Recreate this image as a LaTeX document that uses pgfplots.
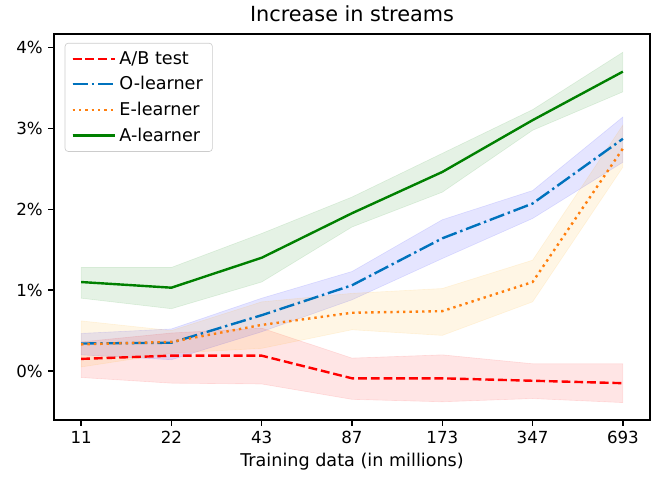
\documentclass[border=0pt]{standalone}
\usepackage{fontspec}
\setmainfont{DejaVu Sans}
\usepackage{pgfplots}
\pgfplotsset{compat=1.18}
\usepackage{pgfplotstable}
\usepgfplotslibrary{fillbetween}

\definecolor{abred}{RGB}{255,0,0}
\definecolor{oblue}{RGB}{0,114,189}
\definecolor{eorange}{RGB}{255,127,14}
\definecolor{agreen}{RGB}{0,128,0}
\definecolor{bandblue}{RGB}{0,0,255}
\definecolor{bandorange}{RGB}{255,165,0}

% columns: category index, mean, lower and upper edge of the band (in %)
\pgfplotstableread{
x  m      lo     hi
0  0.15  -0.08   0.36
1  0.19  -0.15   0.47
2  0.19  -0.16   0.53
3 -0.09  -0.35   0.16
4 -0.09  -0.38   0.20
5 -0.12  -0.34   0.09
6 -0.15  -0.39   0.09
}\abtest
\pgfplotstableread{
x  m     lo     hi
0  0.34  0.20   0.465
1  0.35  0.14   0.52
2  0.69  0.485  0.90
3  1.06  0.88   1.23
4  1.64  1.39   1.87
5  2.07  1.885  2.23
6  2.87  2.58   3.14
}\olearner
\pgfplotstableread{
x  m     lo     hi
0  0.33  0.05   0.62
1  0.36  0.22   0.50
2  0.57  0.28   0.855
3  0.72  0.51   0.96
4  0.74  0.44   1.02
5  1.10  0.855  1.37
6  2.75  2.52   3.04
}\elearner
\pgfplotstableread{
x  m     lo     hi
0  1.10  0.90   1.28
1  1.03  0.77   1.28
2  1.40  1.10   1.70
3  1.95  1.78   2.15
4  2.46  2.21   2.69
5  3.10  2.975  3.23
6  3.70  3.45   3.94
}\alearner

\newcommand{\band}[2]{%
  \addplot[draw=none, forget plot, name path=#1up] table[x=x, y=hi] {#2};
  \addplot[draw=none, forget plot, name path=#1lo] table[x=x, y=lo] {#2};
}

\begin{document}
\begin{tikzpicture}
\begin{axis}[
  scale only axis,
  width=372.5pt, height=241.25pt,
  xmin=-0.3, xmax=6.3, ymin=-0.605, ymax=4.165,
  xtick={0,1,2,3,4,5,6},
  xticklabels={11,22,43,87,173,347,693},
  ytick={0,1,2,3,4},
  yticklabels={0\%,1\%,2\%,3\%,4\%},
  tick align=outside, tick pos=left,
  major tick length=3.5pt,
  every tick/.style={black, line width=0.8pt},
  axis line style={line width=0.8pt, black},
  ticklabel style={font=\fontsize{10.4}{12}\selectfont},
  xlabel={Training data (in millions)},
  xlabel style={font=\fontsize{11}{13}\selectfont, yshift=1pt},
  title={Increase in streams},
  title style={font=\fontsize{13}{15}\selectfont, yshift=-2pt},
  legend cell align=left,
  legend style={at={(0.018,0.977)}, anchor=north west,
    font=\fontsize{11}{13}\selectfont,
    draw=black!20, rounded corners=2pt, fill=white, fill opacity=0.8,
    text opacity=1, row sep=2.2pt, inner xsep=4pt, inner ysep=3pt},
  legend image code/.code={%
    \path (0pt,0pt) -- (26.5pt,0pt);
    \draw[#1] (0pt,0pt) -- (23.5pt,0pt);},
]
  \band{ab}{\abtest}
  \band{o}{\olearner}
  \band{e}{\elearner}
  \band{a}{\alearner}
  \addplot[fill=abred, fill opacity=0.1, draw=abred, draw opacity=0.1, forget plot] fill between[of=abup and ablo];
  \addplot[fill=bandblue, fill opacity=0.1, draw=bandblue, draw opacity=0.1, forget plot] fill between[of=oup and olo];
  \addplot[fill=bandorange, fill opacity=0.1, draw=bandorange, draw opacity=0.1, forget plot] fill between[of=eup and elo];
  \addplot[fill=agreen, fill opacity=0.1, draw=agreen, draw opacity=0.1, forget plot] fill between[of=aup and alo];

  \addplot[abred, line width=1.5pt, dash pattern=on 5.55pt off 2.4pt] table[x=x, y=m] {\abtest};
  \addlegendentry{A/B test}
  \addplot[oblue, line width=1.5pt, dash pattern=on 9.6pt off 2.4pt on 1.5pt off 2.4pt] table[x=x, y=m] {\olearner};
  \addlegendentry{O-learner}
  \addplot[eorange, line width=1.5pt, dash pattern=on 1.5pt off 2.475pt] table[x=x, y=m] {\elearner};
  \addlegendentry{E-learner}
  \addplot[agreen, line width=1.5pt] table[x=x, y=m] {\alearner};
  \addlegendentry{A-learner}

  \coordinate (bl) at (rel axis cs:0,0);
  \coordinate (tr) at (rel axis cs:1,1);
\end{axis}
\pgfresetboundingbox
\useasboundingbox ([shift={(-33.75pt,-35.625pt)}]bl) rectangle ([shift={(1.25pt,21.25pt)}]tr);
\end{tikzpicture}
\end{document}
